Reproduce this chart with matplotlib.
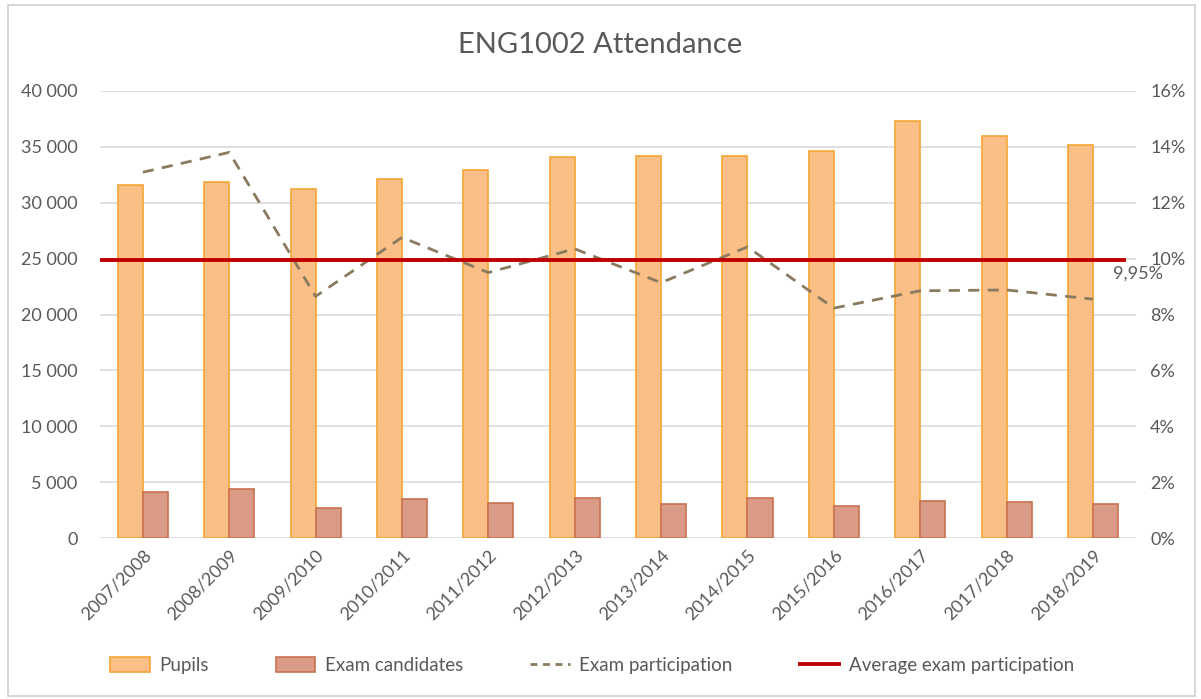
import matplotlib
matplotlib.use("Agg")
import matplotlib.pyplot as plt
import numpy as np
from matplotlib.patches import Rectangle, Patch
from matplotlib.lines import Line2D
from matplotlib.ticker import FuncFormatter, MultipleLocator

plt.rcParams['font.family'] = ['Lato', 'DejaVu Sans']

years = ["2007/2008", "2008/2009", "2009/2010", "2010/2011", "2011/2012", "2012/2013",
         "2013/2014", "2014/2015", "2015/2016", "2016/2017", "2017/2018", "2018/2019"]
pupils = [31560, 31820, 31210, 32120, 32940, 34120, 34140, 34200, 34650, 37310, 35980, 35150]
candidates = [4160, 4430, 2710, 3490, 3190, 3610, 3100, 3580, 2860, 3340, 3220, 3040]
participation = [13.09, 13.8, 8.65, 10.76, 9.5, 10.35, 9.14, 10.42, 8.23, 8.85, 8.88, 8.55]
average_participation = 9.95

text_color = "#595959"
grid_color = "#D9D9D9"

fig = plt.figure(figsize=(12.01, 6.99), dpi=100)
fig.patches.append(Rectangle((0.007, 0.005), 0.988, 0.988, transform=fig.transFigure,
                             fill=False, edgecolor="#D0D0D0", linewidth=1.2))

ax = fig.add_axes([0.083, 0.230, 0.863, 0.640])
ax2 = ax.twinx()

x = np.arange(len(years))
w = 0.29
ax.bar(x - w / 2, pupils, width=w, color="#F9BF86", edgecolor="#F4A535", linewidth=1.2, zorder=2)
ax.bar(x + w / 2, candidates, width=w, color="#D99A86", edgecolor="#C9714F", linewidth=1.2, zorder=2)

ax.set_xlim(-0.5, len(years) - 0.5)
ax.set_ylim(0, 40000)
ax.yaxis.set_major_locator(MultipleLocator(5000))
ax.yaxis.set_major_formatter(FuncFormatter(lambda v, p: f"{int(v):,}".replace(",", " ")))
ax.grid(axis="y", color=grid_color, linewidth=1.2, zorder=0)
ax.set_axisbelow(True)
for s in ax.spines.values():
    s.set_visible(False)
for s in ax2.spines.values():
    s.set_visible(False)
ax.tick_params(axis="y", length=0, labelsize=13, labelcolor=text_color, pad=16)
ax.tick_params(axis="x", length=0, labelsize=13, labelcolor=text_color, pad=6)
ax.set_xticks(x)
ax.set_xticklabels(years, rotation=45, ha="right", rotation_mode="anchor")

ax2.plot(x, participation, color="#8A7B5F", linewidth=2, linestyle=(0, (4, 3)), zorder=3)
ax2.axhline(average_participation, xmin=-0.004, xmax=0.988, color="#C00000", linewidth=2.8, zorder=4)
ax2.set_ylim(0, 16)
ax2.yaxis.set_major_locator(MultipleLocator(2))
ax2.yaxis.set_major_formatter(FuncFormatter(lambda v, p: f"{int(v)}%"))
ax2.tick_params(axis="y", length=0, labelsize=13, labelcolor=text_color, pad=10)
ax2.text(len(years) - 0.5 - 0.27, average_participation - 0.2, "9,95%",
         color=text_color, fontsize=13, ha="left", va="top")

fig.text(0.5, 0.935, "ENG1002 Attendance", ha="center", va="center",
         fontsize=21, color=text_color)

handles = [
    Patch(facecolor="#F9BF86", edgecolor="#F4A535", linewidth=1.2),
    Patch(facecolor="#D99A86", edgecolor="#C9714F", linewidth=1.2),
    Line2D([0], [0], color="#8A7B5F", linewidth=2, linestyle=(0, (2.5, 2))),
    Line2D([0], [0], color="#C00000", linewidth=2.8),
]
labels = ["Pupils", "Exam candidates", "Exam participation", "Average exam participation"]
fig.legend(handles, labels, loc="center", bbox_to_anchor=(0.493, 0.048), ncol=4, frameon=False,
           fontsize=13.5, labelcolor=text_color, handlelength=2.1, handleheight=0.8,
           columnspacing=3.6, handletextpad=0.5)

fig.savefig("out.png", dpi=100)
